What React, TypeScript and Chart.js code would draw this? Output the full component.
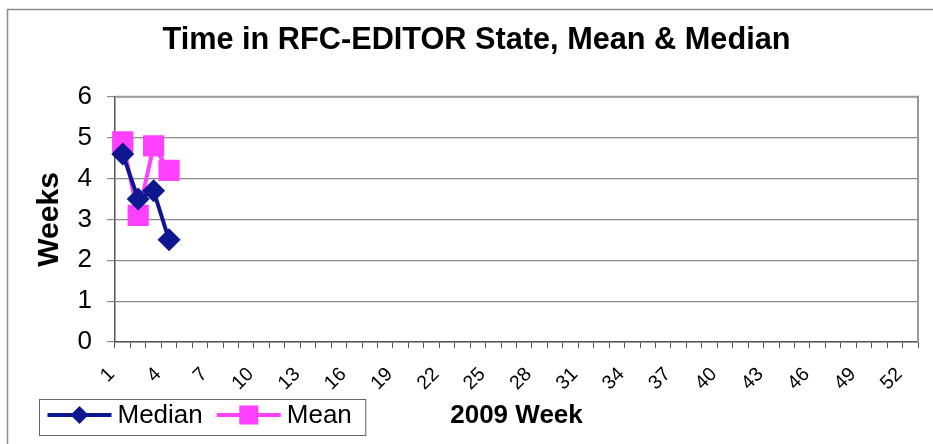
import React, { useEffect, useRef } from "react";
import { Chart, registerables } from "chart.js";

Chart.register(...registerables);

const weeks: string[] = Array.from({ length: 52 }, (_, i) => String(i + 1));
const medianValues: (number | null)[] = [4.6, 3.5, 3.7, 2.5];
const meanValues: (number | null)[] = [4.9, 3.1, 4.8, 4.2];
const yTicks: number[] = [0, 1, 2, 3, 4, 5, 6];
const titleText = "Time in RFC-EDITOR State, Mean & Median";
const yTitle = "Weeks";
const xTitle = "2009 Week";
const seriesNames = ["Median", "Mean"];

const FONT = "'Liberation Sans', Arial, sans-serif";
const NAVY = "#0f1790";
const MAGENTA = "#ff40ff";
const GRID = "#8a8a8a";

function pad(arr: (number | null)[]): (number | null)[] {
  return weeks.map((_, i) => (i < arr.length ? arr[i] : null));
}

const framePlugin = {
  id: "frame",
  beforeDraw(chart: any) {
    const ctx = chart.ctx;
    ctx.save();
    ctx.fillStyle = "#ffffff";
    ctx.fillRect(0, 0, chart.width, chart.height);
    ctx.strokeStyle = "#8c8c8c";
    ctx.lineWidth = 1.5;
    ctx.beginPath();
    ctx.moveTo(7.5, chart.height);
    ctx.lineTo(7.5, 9.5);
    ctx.lineTo(chart.width, 9.5);
    ctx.stroke();
    ctx.restore();
  },
  beforeDatasetsDraw(chart: any) {
    const { ctx, chartArea } = chart;
    ctx.save();
    ctx.strokeStyle = "#999999";
    ctx.lineWidth = 2;
    ctx.beginPath();
    ctx.moveTo(chartArea.left, chartArea.top);
    ctx.lineTo(chartArea.right, chartArea.top);
    ctx.lineTo(chartArea.right, chartArea.bottom);
    ctx.stroke();
    ctx.restore();
  },
  afterDraw(chart: any) {
    const ctx = chart.ctx;
    const boxLeft = 39.5;
    const boxTop = 399.5;
    const boxH = 36;
    const cy = boxTop + boxH / 2 - 2.5;
    ctx.save();
    ctx.font = `26px ${FONT}`;
    ctx.textBaseline = "middle";
    ctx.textAlign = "left";
    let x = boxLeft + 8;
    const styles = [
      { color: NAVY, shape: "diamond" },
      { color: MAGENTA, shape: "square" },
    ];
    seriesNames.forEach((name, i) => {
      const st = styles[i];
      ctx.strokeStyle = st.color;
      ctx.fillStyle = st.color;
      ctx.lineWidth = 4;
      ctx.beginPath();
      ctx.moveTo(x, cy);
      ctx.lineTo(x + 64, cy);
      ctx.stroke();
      const mx = x + 32;
      ctx.beginPath();
      if (st.shape === "diamond") {
        ctx.moveTo(mx, cy - 9);
        ctx.lineTo(mx + 9, cy);
        ctx.lineTo(mx, cy + 9);
        ctx.lineTo(mx - 9, cy);
        ctx.closePath();
      } else {
        ctx.rect(mx - 9.5, cy - 9.5, 19, 19);
      }
      ctx.fill();
      ctx.fillStyle = "#000000";
      ctx.fillText(name, x + 70, cy + 1);
      x += 70 + ctx.measureText(name).width + 14;
    });
    const boxW = x - boxLeft;
    ctx.strokeStyle = "#666666";
    ctx.lineWidth = 1;
    ctx.strokeRect(boxLeft, boxTop, boxW, boxH);
    ctx.restore();
  },
};

export default function App() {
  const ref = useRef<HTMLCanvasElement | null>(null);
  useEffect(() => {
    document.body.style.margin = "0";
    if (!ref.current) return;
    const chart = new Chart(ref.current, {
      type: "line",
      data: {
        labels: weeks,
        datasets: [
          {
            label: seriesNames[0],
            data: pad(medianValues),
            borderColor: NAVY,
            backgroundColor: NAVY,
            borderWidth: 4,
            pointStyle: "rectRot",
            pointRadius: 11.5,
            pointBorderWidth: 0,
            pointBackgroundColor: NAVY,
            spanGaps: false,
          },
          {
            label: seriesNames[1],
            data: pad(meanValues),
            borderColor: MAGENTA,
            backgroundColor: MAGENTA,
            borderWidth: 4,
            pointStyle: "rect",
            pointRadius: 15,
            pointBorderWidth: 0,
            pointBackgroundColor: MAGENTA,
            spanGaps: false,
          },
        ],
      },
      options: {
        animation: false,
        responsive: false,
        devicePixelRatio: 1,
        layout: { padding: { left: 20, right: 0, top: 0, bottom: 0 } },
        plugins: {
          legend: { display: false },
          tooltip: { enabled: false },
          title: {
            display: true,
            text: titleText,
            color: "#000",
            font: { family: FONT, size: 30.7, weight: "bold" },
            padding: { top: 22, bottom: 38 },
          },
        },
        scales: {
          x: {
            type: "category",
            offset: true,
            grid: {
              offset: true,
              drawOnChartArea: false,
              drawTicks: true,
              tickLength: 6,
              color: "#555555",
              lineWidth: 1,
            },
            border: { display: true, color: "#555555", width: 1.5 },
            ticks: {
              autoSkip: false,
              maxRotation: 45,
              minRotation: 45,
              padding: 15,
              labelOffset: -11,
              color: "#000",
              font: { family: FONT, size: 19.5 },
              callback: (_v: any, i: number) => (i % 3 === 0 ? weeks[i] : ""),
            },
            title: {
              display: true,
              text: xTitle,
              color: "#000",
              font: { family: FONT, size: 26, weight: "bold" },
              padding: { top: 0, bottom: 13 },
            },
            afterFit: (scale: any) => {
              scale.height = 102;
              scale.paddingRight = 14;
              scale.paddingLeft = 0;
            },
          },
          y: {
            min: 0,
            max: 6,
            afterBuildTicks: (scale: any) => {
              scale.ticks = yTicks.map((v) => ({ value: v }));
            },
            grid: {
              color: GRID,
              lineWidth: 1.2,
              tickLength: 8,
            },
            border: { display: true, color: "#555555", width: 1.5 },
            ticks: {
              padding: 15,
              color: "#000",
              font: { family: FONT, size: 26 },
            },
            title: {
              display: true,
              text: yTitle,
              color: "#000",
              font: { family: FONT, size: 30, weight: "bold" },
              padding: { top: 12, bottom: 0 },
            },
            afterFit: (scale: any) => {
              scale.width = 95;
            },
          },
        },
      },
      plugins: [framePlugin],
    });
    return () => chart.destroy();
  }, []);
  return (
    <div style={{ width: 933, height: 444 }}>
      <canvas ref={ref} width={933} height={444} style={{ display: "block" }} />
    </div>
  );
}
